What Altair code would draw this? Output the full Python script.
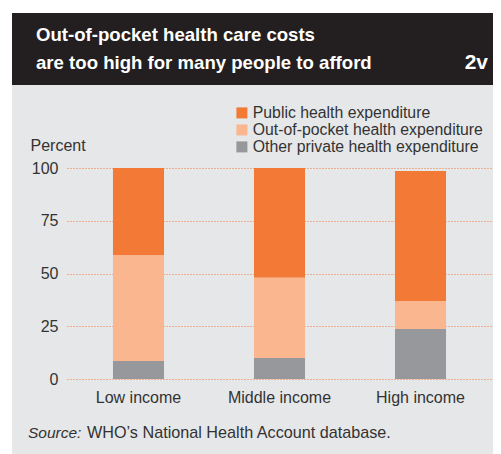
import altair as alt
import pandas as pd

# ---- data ----
categories = ["Low income", "Middle income", "High income"]
series = ["Public health expenditure", "Out-of-pocket health expenditure", "Other private health expenditure"]
public = [41.2, 52.0, 61.6]
out_of_pocket = [50.3, 38.0, 13.3]
other_private = [8.5, 10.0, 23.7]
stack_rank = [2, 1, 0]  # stacking position: other at bottom, public on top
colors = ["#F37936", "#FAB78F", "#97989B"]
y_ticks = [0, 25, 50, 75, 100]

title_line1 = "Out-of-pocket health care costs"
title_line2 = "are too high for many people to afford"
badge = "2v"
source_label = "Source:"
source_text = "WHO\u2019s National Health Account database."

rows = []
for i, c in enumerate(categories):
    for s, vals, r in zip(series, [public, out_of_pocket, other_private], stack_rank):
        rows.append({"category": c, "series": s, "value": vals[i], "rank": r})
df = pd.DataFrame(rows)

FONT = "Liberation Sans"
TXT = "#333333"

one = pd.DataFrame({"a": [0]})

def rect(x, x2, y, y2, color):
    return alt.Chart(one).mark_rect(color=color).encode(
        x=alt.value(x), x2=alt.value(x2), y=alt.value(y), y2=alt.value(y2)
    )

def label(text, x, y, size, color, weight="normal", style="normal", align="left"):
    return alt.Chart(pd.DataFrame({"t": [text]})).mark_text(
        font=FONT, fontSize=size, fontWeight=weight, fontStyle=style,
        color=color, align=align, baseline="alphabetic"
    ).encode(text="t:N", x=alt.value(x), y=alt.value(y))

bars = alt.Chart(df).mark_bar().encode(
    x=alt.X("category:N", sort=categories,
            scale=alt.Scale(paddingInner=0.638, paddingOuter=0.326),
            axis=alt.Axis(title=None, labelAngle=0, domain=False, ticks=False,
                          labelPadding=10, labelFontSize=16, labelColor=TXT,
                          labelFont=FONT, grid=False)),
    y=alt.Y("value:Q", stack="zero",
            scale=alt.Scale(domain=[0, 100], nice=False),
            axis=alt.Axis(title="Percent", values=y_ticks, domain=False, ticks=False,
                          labelPadding=9, labelFontSize=16, labelColor=TXT, labelFont=FONT,
                          grid=True, gridColor="#F37936", gridDash=[1, 2], gridWidth=1,
                          titleAngle=0, titleAlign="left", titleBaseline="alphabetic",
                          titleX=-37, titleY=-18, titleFontSize=16,
                          titleFontWeight="normal", titleColor=TXT, titleFont=FONT)),
    color=alt.Color("series:N", scale=alt.Scale(domain=series, range=colors),
                    legend=alt.Legend(title=None, orient="none", legendX=167, legendY=-63,
                                      symbolType="square", symbolSize=121,
                                      symbolStrokeWidth=0, symbolOpacity=1,
                                      labelFontSize=15.8, labelFont=FONT, labelColor=TXT,
                                      labelLimit=400, labelOffset=3, rowPadding=0, padding=0)),
    order=alt.Order("rank:Q", sort="ascending"),
)

layers = [
    rect(-59, 426, -160, -155, "white"),
    rect(-59, -55, -160, 286, "white"),
    rect(-55, 426, -155, -83, "#231F20"),
    label(title_line1, -31, -127, 18.6, "white", weight="bold"),
    label(title_line2, -31, -99, 18.6, "white", weight="bold"),
    label(badge, 421, -99, 21, "white", weight="bold", align="right"),
    bars,
    label(source_label, -39, 270, 15.5, TXT, style="italic"),
    label(source_text, 20, 270, 16.2, TXT),
]

chart = alt.layer(*layers).properties(
    width=425, height=211,
    padding={"left": 59, "top": 160, "right": 1, "bottom": 75},
    autosize=alt.AutoSizeParams(type="none"),
    background="#E6E7E9",
).configure_view(stroke=None)

chart.save("out.html", embed_options={"renderer": "svg", "actions": False})
